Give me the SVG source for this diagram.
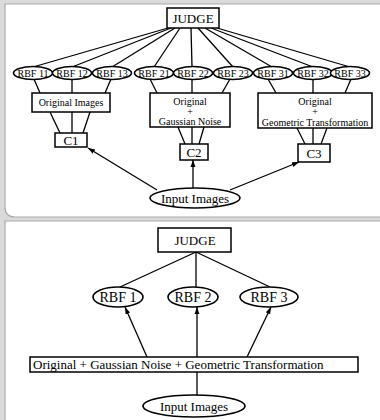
<svg xmlns="http://www.w3.org/2000/svg" width="380" height="420" viewBox="0 0 380 420">
<style>
.bg{fill:#dadada}
.panel{fill:#ffffff;stroke:#a9a9a9;stroke-width:1.2}
.box{fill:#ffffff;stroke:#000;stroke-width:1.5}
.ell{fill:#ffffff;stroke:#000;stroke-width:1.6}
.ln{stroke:#000;stroke-width:1.3;fill:none}
.t{font-family:"Liberation Serif","Times New Roman",serif;fill:#000;text-anchor:middle}
.s10{font-size:10px}
.s13{font-size:13px}
.s14{font-size:14px}
</style>
<defs>
<marker id="ah" viewBox="0 0 10 10" refX="10" refY="5" markerWidth="7" markerHeight="7" markerUnits="userSpaceOnUse" orient="auto">
<path d="M0,1.5 L10,5 L0,8.5 Z" fill="#000"/>
</marker>
</defs>
<rect class="bg" x="0" y="0" width="380" height="420"/>
<path class="panel" d="M390,4 L5,4 L5,207 Q5,217 15,217 L390,217 Z"/>
<path class="panel" d="M390,221 L5,221 L5,430 L390,430 Z"/>

<g id="connectors">
<!-- top panel: JUDGE to RBFs -->
<line class="ln" x1="168" y1="28" x2="33" y2="67"/>
<line class="ln" x1="171" y1="28" x2="72" y2="67"/>
<line class="ln" x1="175" y1="28" x2="112" y2="67"/>
<line class="ln" x1="180" y1="28" x2="154" y2="67"/>
<line class="ln" x1="191" y1="28" x2="192" y2="67"/>
<line class="ln" x1="198" y1="28" x2="233" y2="67"/>
<line class="ln" x1="205" y1="28" x2="272" y2="67"/>
<line class="ln" x1="211" y1="28" x2="313" y2="67"/>
<line class="ln" x1="217" y1="28" x2="350" y2="67"/>
<!-- RBFs to boxes -->
<line class="ln" x1="34" y1="79" x2="40" y2="93"/>
<line class="ln" x1="72" y1="79" x2="72" y2="93"/>
<line class="ln" x1="111" y1="79" x2="105" y2="93"/>
<line class="ln" x1="150" y1="79" x2="157" y2="93"/>
<line class="ln" x1="192" y1="79" x2="192" y2="93"/>
<line class="ln" x1="230" y1="79" x2="222" y2="93"/>
<line class="ln" x1="268" y1="79" x2="276" y2="93"/>
<line class="ln" x1="313" y1="79" x2="313" y2="93"/>
<line class="ln" x1="351" y1="79" x2="345" y2="93"/>
<!-- boxes to C -->
<line class="ln" x1="50" y1="112" x2="60" y2="133"/>
<line class="ln" x1="72" y1="112" x2="72" y2="133"/>
<line class="ln" x1="90" y1="112" x2="83" y2="133"/>
<line class="ln" x1="178" y1="127" x2="185" y2="144"/>
<line class="ln" x1="192" y1="127" x2="192" y2="144"/>
<line class="ln" x1="204" y1="127" x2="199" y2="144"/>
<line class="ln" x1="297" y1="128" x2="305" y2="144"/>
<line class="ln" x1="313" y1="128" x2="313" y2="144"/>
<line class="ln" x1="327" y1="128" x2="321" y2="144"/>
<!-- Input arrows -->
<line class="ln" x1="157" y1="190" x2="88" y2="148" marker-end="url(#ah)"/>
<line class="ln" x1="193" y1="188" x2="193" y2="160" marker-end="url(#ah)"/>
<line class="ln" x1="230" y1="190" x2="299" y2="162" marker-end="url(#ah)"/>
<!-- bottom panel -->
<line class="ln" x1="196" y1="252" x2="120" y2="287"/>
<line class="ln" x1="196" y1="252" x2="196" y2="287"/>
<line class="ln" x1="196" y1="252" x2="270" y2="287"/>
<line class="ln" x1="147" y1="357" x2="125" y2="307" marker-end="url(#ah)"/>
<line class="ln" x1="197" y1="357" x2="197" y2="307" marker-end="url(#ah)"/>
<line class="ln" x1="247" y1="357" x2="271" y2="307" marker-end="url(#ah)"/>
<line class="ln" x1="197" y1="372" x2="197" y2="395"/>
</g>

<g id="judge1"><rect class="box" x="167" y="8" width="52" height="20"/><text class="t s13" x="193" y="23">JUDGE</text></g>
<g id="rbf11"><ellipse class="ell" cx="33" cy="73" rx="19.5" ry="6.5"/><text class="t s10" x="33" y="77">RBF 11</text></g>
<g id="rbf12"><ellipse class="ell" cx="72" cy="73" rx="19.5" ry="6.5"/><text class="t s10" x="72" y="77">RBF 12</text></g>
<g id="rbf13"><ellipse class="ell" cx="112" cy="73" rx="19.5" ry="6.5"/><text class="t s10" x="112" y="77">RBF 13</text></g>
<g id="rbf21"><ellipse class="ell" cx="154" cy="73" rx="19.5" ry="6.5"/><text class="t s10" x="154" y="77">RBF 21</text></g>
<g id="rbf22"><ellipse class="ell" cx="193" cy="73" rx="19.5" ry="6.5"/><text class="t s10" x="193" y="77">RBF 22</text></g>
<g id="rbf23"><ellipse class="ell" cx="233" cy="73" rx="19.5" ry="6.5"/><text class="t s10" x="233" y="77">RBF 23</text></g>
<g id="rbf31"><ellipse class="ell" cx="273" cy="73" rx="19.5" ry="6.5"/><text class="t s10" x="273" y="77">RBF 31</text></g>
<g id="rbf32"><ellipse class="ell" cx="313" cy="73" rx="19.5" ry="6.5"/><text class="t s10" x="313" y="77">RBF 32</text></g>
<g id="rbf33"><ellipse class="ell" cx="350" cy="73" rx="19.5" ry="6.5"/><text class="t s10" x="350" y="77">RBF 33</text></g>

<g id="box1"><rect class="box" x="32" y="93" width="78" height="19"/><text class="t s10" x="71" y="106">Original Images</text></g>
<g id="box2"><rect class="box" x="150" y="93" width="80" height="34"/><text class="t s10" x="190" y="105">Original</text><text class="t s10" x="190" y="115">+</text><text class="t s10" x="190" y="125">Gaussian Noise</text></g>
<g id="box3"><rect class="box" x="258" y="93" width="114" height="35"/><text class="t s10" x="315" y="105">Original</text><text class="t s10" x="315" y="115">+</text><text class="t s10" x="315" y="126">Geometric Transformation</text></g>

<g id="c1"><rect class="box" x="55" y="133" width="32" height="14"/><text class="t s13" x="71" y="145">C1</text></g>
<g id="c2"><rect class="box" x="180" y="144" width="28" height="16"/><text class="t s13" x="194" y="157">C2</text></g>
<g id="c3"><rect class="box" x="298" y="144" width="32" height="18"/><text class="t s13" x="314" y="158">C3</text></g>

<g id="input1"><ellipse class="ell" cx="195" cy="198" rx="45" ry="10"/><text class="t s13" x="195" y="202.5">Input Images</text></g>

<g id="judge2"><rect class="box" x="158" y="228" width="73" height="24"/><text class="t s13" x="195" y="245">JUDGE</text></g>
<g id="rbf1"><ellipse class="ell" cx="118" cy="297" rx="25" ry="10"/><text class="t s14" x="118" y="302">RBF 1</text></g>
<g id="rbf2"><ellipse class="ell" cx="193" cy="297" rx="25" ry="10"/><text class="t s14" x="193" y="302">RBF 2</text></g>
<g id="rbf3"><ellipse class="ell" cx="269" cy="297" rx="29" ry="10"/><text class="t s14" x="269" y="302">RBF 3</text></g>
<g id="combined"><rect class="box" x="30" y="357" width="328" height="15"/><text class="t s13" x="33" y="369" style="text-anchor:start">Original + Gaussian Noise + Geometric Transformation</text></g>
<g id="input2"><ellipse class="ell" cx="194" cy="406" rx="51" ry="11"/><text class="t s13" x="194" y="410.5">Input Images</text></g>
</svg>
